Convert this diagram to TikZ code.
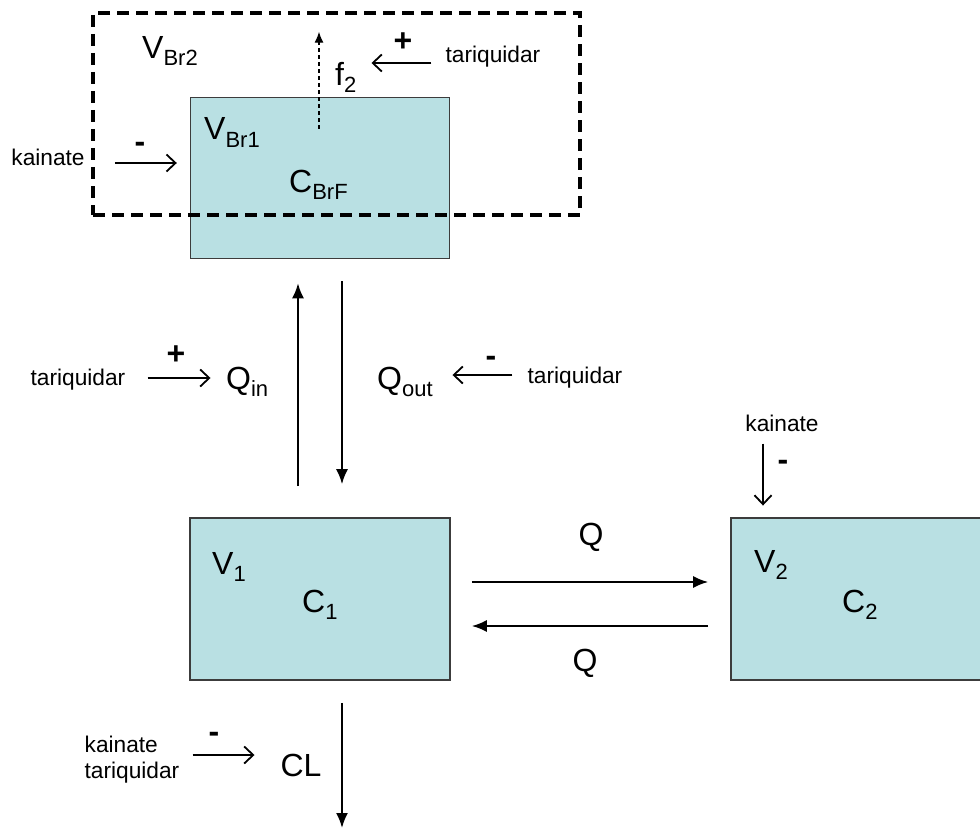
\documentclass[tikz,border=0pt]{standalone}
\usepackage{fontspec}
\setmainfont{Liberation Sans}
\usetikzlibrary{arrows.meta}
\definecolor{tissue}{RGB}{185,224,227}
\definecolor{rim}{RGB}{60,60,60}
\newcommand{\lowsub}[1]{\raisebox{-7pt}{\fontsize{22}{24}\selectfont #1}}
\tikzset{
  comp/.style={draw=rim,line width=1.6pt,fill=tissue,minimum width=259pt,minimum height=161pt,inner sep=0pt},
  brainbox/.style={draw=black,line width=3.6pt,dash pattern=on 12pt off 7pt,minimum width=487pt,minimum height=202pt,inner sep=0pt},
  big/.style={font=\fontsize{32}{36}\selectfont,inner sep=0pt},
  small/.style={font=\fontsize{22.7}{26}\selectfont,inner sep=0pt,align=left},
  sign/.style={font=\fontsize{32}{36}\selectfont\bfseries,inner sep=0pt},
  flow/.style={line width=2pt,-{Latex[length=15pt,width=12pt]}},
  effect/.style={line width=1.8pt,-{Straight Barb[length=9pt,width=17pt]}},
}
\begin{document}
\begin{tikzpicture}[x=1pt,y=1pt]
\useasboundingbox (0,0) rectangle (980,-832);
% compartments:
\node[comp] (brf) at (320,-178) {};
\node[brainbox] (brain) at (336.5,-114) {};
\node[comp,minimum width=260pt,minimum height=162pt] (vone) at (320,-599) {};
\node[comp,minimum width=253pt,minimum height=162pt] (vtwo) at (857.5,-599) {};
% labels in the compartments:
\node[big,anchor=base west] (vbrtwo) at (142,-59) {V\lowsub{Br2}};
\node[big,anchor=base west] (vbrone) at (204,-140) {V\lowsub{Br1}};
\node[big,anchor=base west] (cbrf) at (289,-192) {C\lowsub{BrF}};
\node[big,anchor=base west] (ftwo) at (335,-86) {f\lowsub{2}};
\node[big,anchor=base west] (vonel) at (212,-574) {V\lowsub{1}};
\node[big,anchor=base west] (conel) at (302,-612) {C\lowsub{1}};
\node[big,anchor=base west] (vtwol) at (754,-572) {V\lowsub{2}};
\node[big,anchor=base west] (ctwol) at (842,-612) {C\lowsub{2}};
% rates:
\node[big,anchor=base west] (qin) at (226,-389) {Q\lowsub{in}};
\node[big,anchor=base west] (qout) at (377,-389) {Q\lowsub{out}};
\node[big] (qtop) at (591,-537) {Q};
\node[big] (qbot) at (585,-663) {Q};
\node[big] (cl) at (301,-765) {CL};
% drugs:
\node[small] (tqtop) at (493,-57) {tariquidar};
\node[small] (knleft) at (48,-157) {kainate};
\node[small] (tqleft) at (78,-380) {tariquidar};
\node[small] (tqright) at (575,-378) {tariquidar};
\node[small] (kntop) at (782,-423) {kainate};
\node[small] (kntq) at (132,-760) {kainate\\tariquidar};
\node[sign] (ptop) at (403,-42) {+};
\node[sign] (mleft) at (140,-147) {-};
\node[sign] (pqin) at (176,-355) {+};
\node[sign] (mqout) at (491,-361) {-};
\node[sign] (mtwo) at (783,-465) {-};
\node[sign] (mcl) at (214,-737) {-};
\coordinate (sink) at (342,-828);
% transport:
\draw[flow] ([xshift=-22pt,yshift=31pt]vone.north) -- ([xshift=-22pt,yshift=-24pt]brf.south);
\draw[flow] ([xshift=22pt,yshift=-22pt]brf.south) -- ([xshift=22pt,yshift=33pt]vone.north);
\draw[flow] ([xshift=21pt,yshift=17pt]vone.east) -- ([xshift=-22pt,yshift=17pt]vtwo.west);
\draw[flow] ([xshift=-22pt,yshift=-27pt]vtwo.west) -- ([xshift=21pt,yshift=-27pt]vone.east);
\draw[flow] ([xshift=22pt,yshift=-22pt]vone.south) -- (sink);
\draw[line width=1.3pt,dash pattern=on 4pt off 3pt,-{Latex[length=11pt,width=9pt]}] ([xshift=-1pt,yshift=-32pt]brf.north) -- ([xshift=-1pt,yshift=65pt]brf.north);
% drug effects:
\draw[effect] ([xshift=-14pt,yshift=-6pt]tqtop.west) -- ++(-60pt,0);
\draw[effect] ([xshift=30pt,yshift=-6pt]knleft.east) -- ++(62pt,0);
\draw[effect] ([xshift=22pt,yshift=2pt]tqleft.east) -- ++(63pt,0);
\draw[effect] ([xshift=-15pt,yshift=3pt]tqright.west) -- ++(-60pt,0);
\draw[effect] ([xshift=-19pt,yshift=-12pt]kntop.south) -- ++(0,-62pt);
\draw[effect] ([xshift=13pt,yshift=5pt]kntq.east) -- ++(62pt,0);
\end{tikzpicture}
\end{document}
